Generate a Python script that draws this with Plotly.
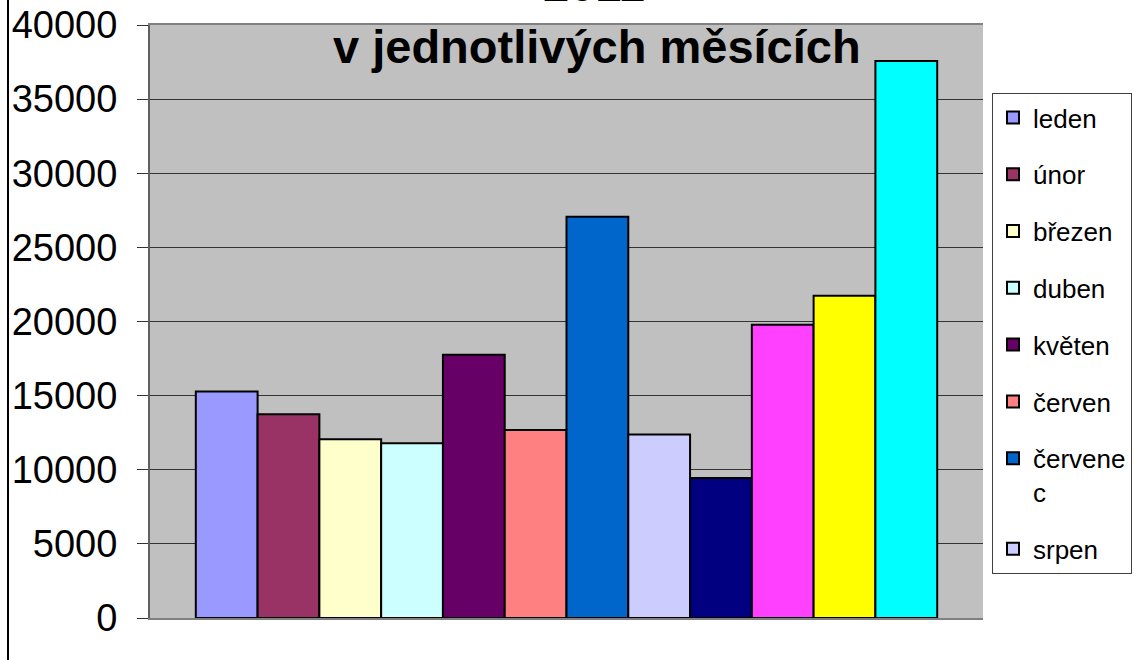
import plotly.graph_objects as go

months = ["leden", "únor", "březen", "duben", "květen", "červen",
          "červenec", "srpen", "září", "říjen", "listopad", "prosinec"]
legend_names = ["leden", "únor", "březen", "duben", "květen", "červen",
                "červene<br>c", "srpen", "září", "říjen", "listopad", "prosinec"]
values = [15270, 13740, 12050, 11780, 17750, 12680,
          27070, 12370, 9450, 19780, 21730, 37580]
colors = ["#9999FF", "#993366", "#FFFFCC", "#CCFFFF", "#660066", "#FF8080",
          "#0066CC", "#CCCCFF", "#000080", "#FF40FF", "#FFFF00", "#00FFFF"]
legend_visible = [True] * 8 + [False] * 4
y_ticks = [0, 5000, 10000, 15000, 20000, 25000, 30000, 35000, 40000]
title_lines = ["2011", "v jednotlivých měsících"]

fig = go.Figure()
for m, ln, v, c, sl in zip(months, legend_names, values, colors, legend_visible):
    fig.add_trace(go.Bar(
        x=["2011"], y=[v], name=ln, legendgroup=m, showlegend=sl,
        marker=dict(color=c, line=dict(color="black", width=2)),
    ))

L, R, T, B = 150, 151, 25, 42
W, H = 1134, 660
pw, ph = W - L - R, H - T - B

fig.update_layout(
    width=W, height=H,
    margin=dict(l=L, r=R, t=T, b=B, autoexpand=False),
    paper_bgcolor="white",
    plot_bgcolor="#C0C0C0",
    barmode="group",
    bargap=0.11,
    bargroupgap=0,
    font=dict(family="Liberation Sans, Arial, sans-serif", color="black"),
    showlegend=True,
    legend=dict(
        x=(992 - L) / pw, y=(H - B - 93) / ph, xanchor="left", yanchor="top",
        font=dict(size=26, color="black"),
        bgcolor="white", bordercolor="#404040", borderwidth=1,
        tracegroupgap=20, itemsizing="constant", itemwidth=30,
        entrywidth=200, valign="top",
    ),
    xaxis=dict(showticklabels=False, showgrid=False, zeroline=False,
               showline=True, linecolor="#808080", linewidth=2, mirror=True,
               ticks=""),
    yaxis=dict(range=[0, 40000], tickvals=y_ticks,
               ticktext=[str(t) for t in y_ticks],
               showgrid=True, gridcolor="#333333", gridwidth=1,
               zeroline=False, showline=True, linecolor="#606060", linewidth=2,
               ticks="outside", ticklen=11, tickcolor="#333333", tickwidth=1,
               tickfont=dict(size=38, color="black"),
               ticklabelstandoff=12),
)

fig.add_annotation(text="<b>" + title_lines[0] + "</b>", xref="paper", yref="paper",
                   x=(594 - L) / pw, y=(H - B - 13) / ph, xanchor="center", yanchor="bottom",
                   showarrow=False, font=dict(size=47, color="black"))
fig.add_annotation(text="<b>" + title_lines[1] + "</b>", xref="paper", yref="paper",
                   x=(597 - L) / pw, y=(H - B - 46) / ph, xanchor="center", yanchor="middle",
                   showarrow=False, font=dict(size=47, color="black"))

fig.add_shape(type="line", xref="paper", yref="paper",
              x0=(8 - L) / pw, x1=(8 - L) / pw, y0=-B / ph, y1=1 + T / ph,
              line=dict(color="black", width=2))

fig.write_html("out.html", config={"displayModeBar": False},
               post_script="document.body.style.margin='0';")
